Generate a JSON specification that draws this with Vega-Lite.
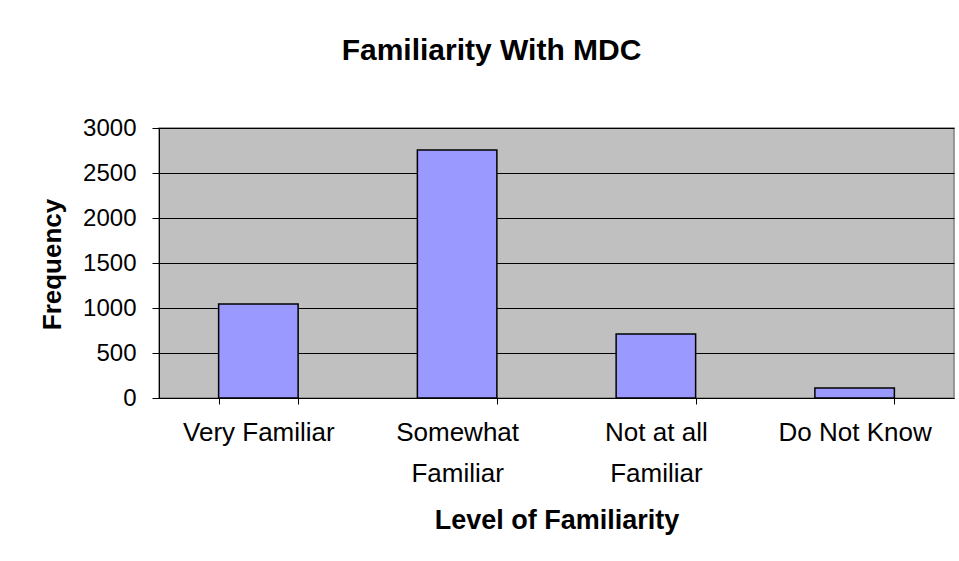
{
  "$schema": "https://vega.github.io/schema/vega-lite/v6.json",
  "width": 795,
  "height": 270,
  "autosize": {"type": "none"},
  "padding": {"left": 159, "top": 128, "right": 5, "bottom": 163},
  "background": "white",
  "title": {
    "text": "Familiarity With MDC",
    "font": "Liberation Sans",
    "fontSize": 30,
    "fontWeight": "bold",
    "color": "black",
    "anchor": "middle",
    "offset": 50,
    "dx": -65
  },
  "data": {
    "values": [
      {"level": "Very Familiar", "frequency": 1045},
      {"level": "Somewhat Familiar", "frequency": 2755},
      {"level": "Not at all Familiar", "frequency": 710},
      {"level": "Do Not Know", "frequency": 110}
    ]
  },
  "mark": {"type": "bar", "color": "#9999FF", "stroke": "black", "strokeWidth": 1.5},
  "encoding": {
    "x": {
      "field": "level",
      "type": "nominal",
      "sort": null,
      "scale": {"paddingInner": 0.6, "paddingOuter": 0.3},
      "axis": {
        "title": "Level of Familiarity",
        "titleFont": "Liberation Sans",
        "titleFontSize": 27,
        "titleFontWeight": "bold",
        "titleColor": "black",
        "titleBaseline": "alphabetic",
        "titleY": 130,
        "labelFont": "Liberation Sans",
        "labelFontSize": 26,
        "labelColor": "black",
        "labelAngle": 0,
        "labelPadding": 15,
        "labelLineHeight": 41,
        "labelExpr": "datum.value == 'Somewhat Familiar' ? ['Somewhat', 'Familiar'] : datum.value == 'Not at all Familiar' ? ['Not at all', 'Familiar'] : datum.value",
        "domainColor": "black",
        "domainWidth": 1,
        "tickColor": "black",
        "tickSize": 6,
        "tickBand": "extent",
        "bandPosition": -0.75,
        "grid": false
      }
    },
    "y": {
      "field": "frequency",
      "type": "quantitative",
      "scale": {"domain": [0, 3000], "nice": false},
      "axis": {
        "title": "Frequency",
        "titleFont": "Liberation Sans",
        "titleFontSize": 26,
        "titleFontWeight": "bold",
        "titleColor": "black",
        "titleBaseline": "alphabetic",
        "titleX": -99,
        "titleY": 136,
        "titleAngle": -90,
        "values": [0, 500, 1000, 1500, 2000, 2500, 3000],
        "format": "d",
        "labelFont": "Liberation Sans",
        "labelFontSize": 24,
        "labelColor": "black",
        "labelPadding": 16,
        "tickColor": "black",
        "tickSize": 7,
        "domain": true,
        "domainColor": "black",
        "grid": true,
        "gridColor": "black",
        "gridWidth": 1
      }
    }
  },
  "config": {
    "view": {"fill": "#C0C0C0", "stroke": "#808080", "strokeWidth": 1.5}
  }
}
